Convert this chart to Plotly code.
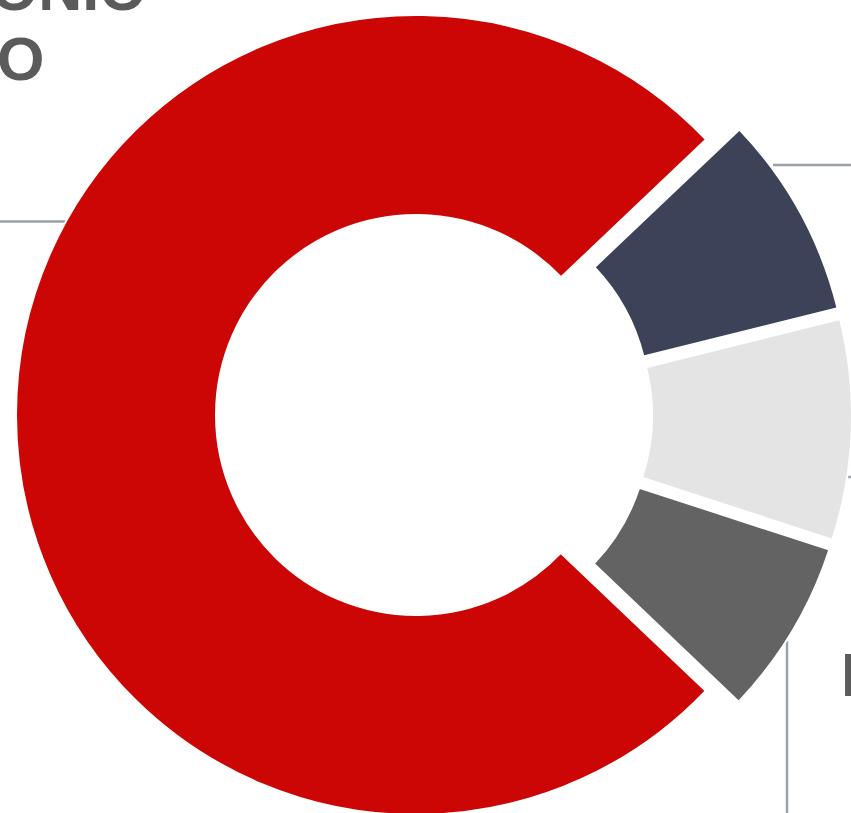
import plotly.graph_objects as go

# ---- data ----
labels = ["PATRIMONIO NETO", "PASIVO NO CORRIENTE", "PASIVO CORRIENTE", "DEUDA FINANCIERA"]
values = [75.8, 8.2, 8.9, 7.1]
colors = ["#CC0505", "#3C4257", "#E4E4E4", "#636363"]

W, H = 870, 850          # figure size (page shows the top-left 851x813)
SHIFT = 8                # figure is drawn 8 px above the page top
TEXT_COLOR = "#5B5B5B"
LINE_COLOR = "#9BA1AA"
FONT = "Liberation Sans, Arial, sans-serif"


def px(x):
    return x / W


def py(y):
    # y in page pixels -> paper fraction
    return 1 - (y + SHIFT) / H


# pie: centre (431, 415) page px, radius 400, pulls in px / radius
R = 400
CX, CY = 431, 415
pulls_px = [15, 21, 21, 21]
half = R * (1 + max(pulls_px) / R)

fig = go.Figure()
fig.add_trace(go.Pie(
    labels=labels,
    values=values,
    hole=0.5,
    sort=False,
    direction="clockwise",
    rotation=133.6,
    pull=[p / R for p in pulls_px],
    marker=dict(colors=colors, line=dict(color="white", width=2)),
    textinfo="none",
    hoverinfo="label+percent",
    showlegend=False,
    domain=dict(x=[px(CX - half), px(CX + half)],
                y=[py(CY + half), py(CY - half)]),
))

# leader lines of the (cropped) outside labels
shapes = [
    dict(x0=px(-5), x1=px(66), y0=py(221.5), y1=py(221.5)),
    dict(x0=px(773), x1=px(870), y0=py(165), y1=py(165)),
    dict(x0=px(787), x1=px(787), y0=py(641), y1=py(840)),
    dict(x0=px(848), x1=px(870), y0=py(477), y1=py(477)),
]
for s in shapes:
    s.update(type="line", xref="paper", yref="paper",
             line=dict(color=LINE_COLOR, width=2.5), layer="below")

annotations = [
    dict(text="<b>PATRIMONIO</b>", x=px(149), y=py(-11), xanchor="right", yanchor="middle"),
    dict(text="<b>NETO</b>", x=px(46), y=py(59), xanchor="right", yanchor="middle"),
    dict(text="<b>DEUDA</b>", x=px(839), y=py(674.5), xanchor="left", yanchor="middle"),
]
for a in annotations:
    a.update(xref="paper", yref="paper", showarrow=False,
             font=dict(family=FONT, size=61, color=TEXT_COLOR))

fig.update_layout(
    width=W, height=H,
    margin=dict(l=0, r=0, t=0, b=0),
    paper_bgcolor="white", plot_bgcolor="white",
    shapes=shapes, annotations=annotations,
    showlegend=False,
)

fig.write_html(
    "out.html",
    config={"displayModeBar": False},
    post_script=(
        "document.body.style.margin='0';"
        "document.body.style.overflow='hidden';"
        "document.getElementById('{plot_id}').style.marginTop='-%dpx';" % SHIFT
    ),
)
